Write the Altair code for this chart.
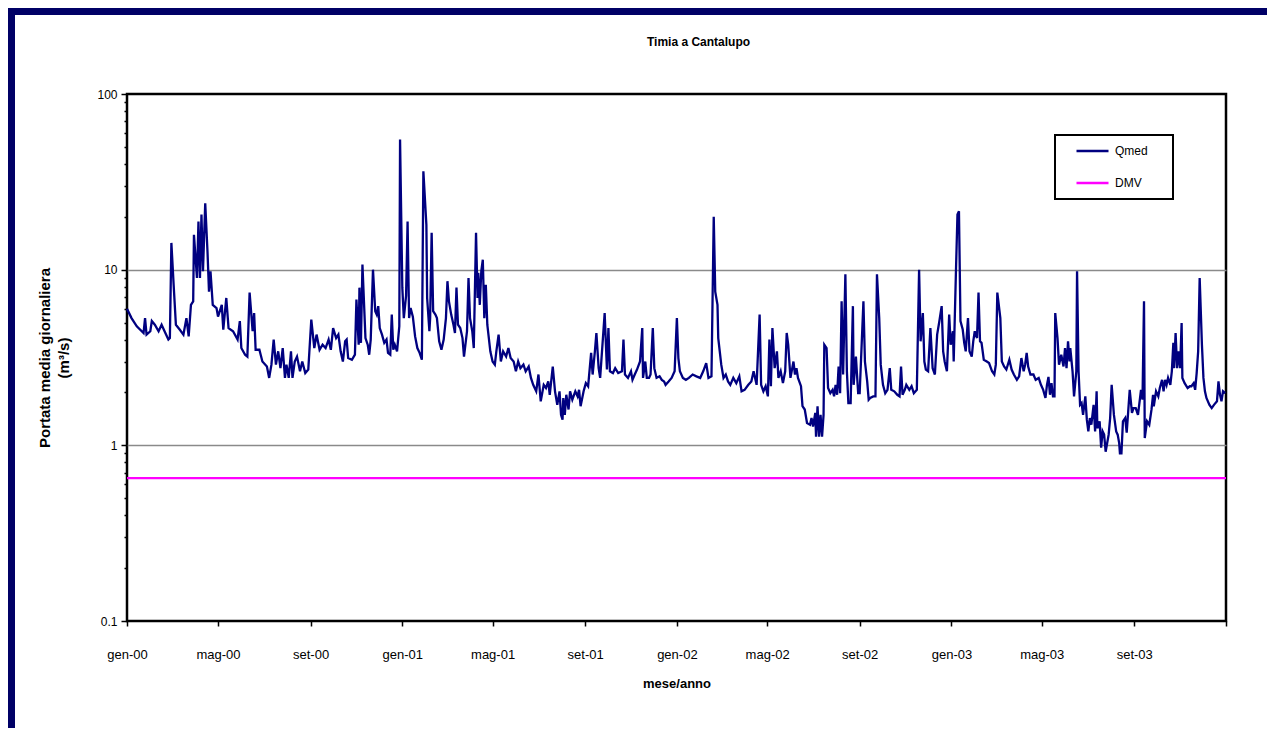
import altair as alt
import pandas as pd

# ---- data ----
# day = days since 2000-01-01, qmed = daily mean discharge (m3/s)
day = [0, 6, 13, 22, 24, 26, 31, 33, 37, 42, 46, 51, 55, 57, 59, 62, 65, 70, 75, 79, 82, 85, 88, 89, 93, 95, 97, 99, 101, 104, 107, 109, 111, 114, 119, 121, 126, 128, 132, 135, 141, 147, 150, 152, 157, 160, 163, 167, 169, 171, 176, 180, 186, 189, 192, 195, 198, 201, 204, 207, 210, 212, 215, 218, 220, 223, 226, 230, 233, 237, 241, 245, 249, 252, 256, 260, 264, 268, 271, 274, 278, 281, 284, 287, 290,
       292, 294, 299, 303, 305, 308, 309, 311, 313, 315, 317, 320, 322, 324, 327, 330, 332, 334, 336, 339, 342, 345, 347, 350, 352, 354, 356, 359, 362, 363, 366, 368, 371, 373, 375, 377, 380, 383, 386, 389, 392, 394, 398, 399, 402, 403, 405, 407, 410, 412, 415, 418, 421, 424, 426, 428, 431, 434, 436, 438, 440, 443, 446, 448, 452, 454, 456, 459, 461, 464, 466, 467, 469, 471, 473, 475, 477, 479, 483, 486, 489, 491, 494, 497, 500, 504, 507, 510, 514, 517, 520, 523, 527, 530, 534, 537, 540, 544, 547, 550, 554, 557, 560, 562, 566, 569, 572, 575, 577, 579,
       580, 582, 584, 587, 589, 592, 596, 599, 601, 603, 607, 610, 613, 617, 619, 622, 624, 627, 629, 635, 638, 640, 642, 646, 649, 653, 658, 660, 662, 666, 670, 672, 675, 678, 682, 685, 686, 689, 691, 694, 696, 699, 701, 704, 708, 711, 714, 716, 720, 724, 728, 731, 733, 735, 739, 743, 747, 752, 757, 762, 766, 770, 773, 777, 780, 782, 785, 786, 788, 790, 793, 796, 799, 802, 806, 810, 814, 817, 821, 826, 830, 833, 837, 841, 843, 846, 849, 852, 854, 856, 858, 861, 864, 866, 869, 872, 875, 877,
       879, 882, 886, 888, 890, 892, 896, 898, 901, 904, 908, 910, 912, 915, 916, 918, 920, 922, 924, 926, 927, 930, 932, 935, 938, 940, 942, 944, 946, 948, 950, 952, 955, 957, 959, 962, 965, 966, 969, 972, 974, 979, 981, 984, 986, 988, 992, 995, 997, 1000, 1002, 1005, 1008, 1011, 1014, 1016, 1020, 1024, 1027, 1029, 1031, 1034, 1036, 1040, 1043, 1046, 1050, 1053, 1055, 1058, 1060, 1062, 1065, 1068, 1071, 1074, 1077, 1080, 1083, 1085, 1087, 1090, 1093, 1095, 1098, 1099, 1102, 1104, 1106, 1108, 1111, 1113, 1115, 1118, 1120, 1123, 1125, 1127, 1130, 1132, 1134, 1136, 1139, 1143, 1146, 1150, 1153, 1155, 1157, 1161, 1163, 1166, 1169, 1173,
       1176, 1179, 1183, 1186, 1189, 1192, 1194, 1196, 1198, 1201, 1205, 1208, 1212, 1215, 1218, 1221, 1223, 1225, 1227, 1229, 1231, 1233, 1234, 1237, 1239, 1242, 1245, 1247, 1249, 1251, 1253, 1254, 1257, 1259, 1262, 1263, 1265, 1267, 1269, 1271, 1274, 1276, 1278, 1280, 1282, 1285, 1287, 1289, 1290, 1293, 1295, 1297, 1299, 1301, 1305, 1307, 1309, 1312, 1315, 1317, 1319, 1320, 1322, 1324, 1327, 1329, 1331, 1333, 1336, 1338, 1341, 1344, 1348, 1350, 1352, 1353, 1356, 1359, 1362, 1364, 1365, 1368, 1371, 1373, 1376, 1378, 1380, 1382, 1384, 1387, 1389, 1391, 1392, 1394, 1396, 1398, 1400, 1402, 1403, 1406, 1410, 1413, 1415, 1418, 1420, 1422, 1424, 1426, 1429, 1431, 1433, 1435, 1439, 1442, 1445, 1449, 1451, 1453, 1455, 1457, 1460]

qmed = [6.0, 5.3, 4.76, 4.36, 5.3, 4.27, 4.46, 5.1, 4.86, 4.46, 4.86, 4.36, 4.0, 4.08, 14.2, 8.2, 4.86, 4.56, 4.27, 5.3, 4.17, 6.3, 6.6, 15.8, 8.97, 18.8, 8.97, 20.6, 9.8, 23.9, 12.7, 7.5, 9.8, 6.3, 6.05, 5.4, 6.3, 4.56, 6.9, 4.65, 4.46, 4.0, 5.1, 3.58, 3.28, 3.2, 7.4, 4.46, 5.66, 3.5, 3.5, 3.0, 2.81, 2.42, 2.88, 4.0, 2.88, 3.43, 2.75, 3.58, 2.42, 2.88, 2.42, 3.43, 2.42, 3.0, 3.2, 2.64, 3.0, 2.58, 2.7, 5.2, 3.58, 4.27, 3.5, 3.74, 3.58, 4.0, 3.5, 4.65, 4.08, 4.27, 3.43, 3.0, 3.91,
        4.0, 3.14, 3.07, 3.28, 6.75, 3.74, 7.9, 3.83, 10.7, 6.6, 4.08, 3.74, 3.28, 4.0, 10.0, 5.8, 5.55, 6.2, 4.65, 4.27, 3.83, 4.0, 3.36, 3.28, 5.55, 3.5, 3.74, 3.43, 4.76, 55.0, 7.9, 5.3, 7.1, 18.8, 5.3, 6.05, 5.4, 4.17, 3.58, 3.36, 3.07, 36.3, 18.0, 6.9, 4.46, 5.3, 16.2, 5.8, 5.55, 5.3, 3.91, 3.5, 4.0, 5.3, 8.6, 6.6, 5.55, 4.86, 4.36, 7.9, 4.86, 4.65, 4.08, 3.2, 4.46, 8.97, 5.3, 4.46, 3.58, 16.2, 6.9, 9.6, 6.3, 9.8, 11.4, 5.3, 8.2, 4.86, 3.43, 3.0, 2.88, 3.43, 4.27, 3.0, 3.43, 3.2, 3.58, 3.14, 3.0, 2.64, 3.0, 2.75, 2.88, 2.64, 2.81, 2.42, 2.21, 2.03, 2.53, 1.78, 2.21, 2.12, 2.31, 1.94, 2.81, 2.03, 1.70, 2.03, 1.49, 1.4,
        1.86, 1.49, 1.94, 1.6, 2.03, 1.82, 2.03, 1.9, 2.07, 1.67, 2.03, 2.26, 2.17, 3.36, 2.53, 3.43, 4.36, 2.75, 2.42, 5.66, 2.7, 4.65, 2.64, 2.58, 2.75, 2.58, 2.64, 4.0, 2.53, 2.42, 2.64, 2.36, 2.53, 2.7, 3.0, 4.65, 2.42, 3.0, 2.42, 2.42, 2.53, 4.65, 2.75, 2.42, 2.47, 2.36, 2.31, 2.21, 2.31, 2.42, 2.64, 5.3, 3.14, 2.64, 2.42, 2.36, 2.42, 2.53, 2.47, 2.42, 2.64, 2.94, 2.42, 2.47, 20.0, 7.5, 6.3, 4.08, 3.43, 2.88, 2.42, 2.53, 2.31, 2.21, 2.42, 2.26, 2.47, 2.03, 2.07, 2.21, 2.31, 2.64, 2.21, 5.55, 2.21, 2.03, 2.17, 1.9, 4.0, 2.17, 4.65, 2.75, 3.43, 2.42, 2.64, 2.26, 2.64, 4.36,
        3.74, 2.42, 3.0, 2.53, 2.75, 2.42, 2.17, 1.67, 1.6, 1.34, 1.31, 1.43, 1.28, 1.53, 1.12, 1.67, 1.12, 1.49, 1.12, 1.49, 3.74, 3.58, 2.12, 1.98, 2.07, 1.9, 2.21, 1.94, 2.81, 1.98, 6.6, 2.53, 9.4, 2.64, 1.74, 1.74, 6.2, 2.21, 3.2, 1.98, 1.98, 6.6, 3.0, 2.31, 1.82, 1.86, 1.9, 1.9, 9.4, 5.3, 2.88, 2.21, 1.98, 2.07, 2.75, 2.07, 2.03, 1.94, 1.9, 2.81, 1.94, 2.07, 2.21, 2.07, 2.17, 1.98, 2.07, 10.0, 3.91, 5.66, 3.0, 2.7, 2.64, 4.65, 2.75, 2.53, 4.27, 5.1, 6.2, 3.43, 3.0, 2.64, 5.55, 3.74, 4.46, 3.0, 9.8, 20.6, 21.5, 5.1, 4.56, 3.83, 3.43, 5.3, 3.43, 3.2, 3.91, 4.46, 4.08, 7.4, 3.91, 3.83, 3.07, 3.0, 2.94, 2.64, 2.53, 2.88, 7.4, 5.3, 3.0, 2.81, 2.7, 3.07,
        2.7, 2.53, 2.36, 2.47, 3.14, 2.64, 2.88, 3.36, 2.81, 2.53, 2.53, 2.36, 2.42, 2.21, 2.07, 1.86, 2.21, 2.45, 1.94, 2.26, 1.9, 1.9, 5.66, 4.08, 2.88, 3.28, 2.81, 3.58, 2.75, 3.91, 3.0, 3.58, 2.64, 1.9, 2.64, 9.8, 2.64, 1.70, 1.74, 1.49, 1.9, 1.4, 1.2, 1.43, 1.31, 1.70, 1.2, 2.03, 1.25, 1.37, 0.97, 1.2, 1.15, 0.92, 1.15, 1.43, 2.21, 1.49, 1.2, 1.15, 1.03, 0.9, 0.9, 1.37, 1.43, 1.18, 1.56, 2.07, 1.53, 1.63, 1.63, 1.49, 2.07, 1.82, 6.6, 1.1, 1.37, 1.31, 1.6, 1.94, 1.67, 2.03, 1.9, 2.12, 2.36, 2.03, 2.36, 2.21, 2.42, 2.21, 2.64, 3.83, 2.75, 4.36, 2.75, 3.43, 2.75, 4.97, 2.42, 2.26, 2.12, 2.17, 2.17, 2.26, 2.07, 2.58, 3.43, 8.97, 3.74, 2.42, 2.03, 1.86, 1.70, 1.63, 1.70, 1.78, 2.31, 1.94, 1.78, 2.03, 1.98]

dmv_day = [0, 1461]
dmv_val = [0.65, 0.65]

series_names = ["Qmed", "DMV"]
series_colors = ["#000080", "#ff00ff"]

month_names = ["gen", "feb", "mar", "apr", "mag", "giu", "lug", "ago", "set", "ott", "nov", "dic"]
y_ticks = [0.1, 0.2, 0.3, 0.4, 0.5, 0.6, 0.7, 0.8, 0.9,
           1, 2, 3, 4, 5, 6, 7, 8, 9,
           10, 20, 30, 40, 50, 60, 70, 80, 90, 100]

# ---- build tables ----
start = pd.Timestamp("2000-01-01")
df_q = pd.DataFrame({"data": start + pd.to_timedelta(day, unit="D"), "q": qmed, "serie": "Qmed"})
df_d = pd.DataFrame({"data": start + pd.to_timedelta(dmv_day, unit="D"), "q": dmv_val, "serie": "DMV"})
df = pd.concat([df_q, df_d], ignore_index=True)

x_ticks = [alt.DateTime(year=2000 + i // 3, month=1 + 4 * (i % 3), date=1) for i in range(13)]

FONT = "Liberation Sans"
NAVY = "#000066"

major_test = "indexof([0.1, 1, 10, 100], datum.value) >= 0"
grid_test = "indexof([1, 10], datum.value) >= 0"

month_js = "[" + ",".join("'%s'" % m for m in month_names) + "]"
x_label_expr = ("year(datum.value) >= 2004 ? '' : " + month_js +
                "[month(datum.value)] + '-' + timeFormat(datum.value, '%y')")

lines = alt.Chart(df).mark_line(strokeWidth=2.3, interpolate="linear").encode(
    x=alt.X(
        "data:T",
        scale=alt.Scale(domain=[alt.DateTime(year=2000, month=1, date=1),
                                alt.DateTime(year=2004, month=1, date=1)]),
        axis=alt.Axis(
            title="mese/anno",
            values=x_ticks,
            labelExpr=x_label_expr,
            labelFlush=False,
            labelOverlap=False,
            grid=False,
            domain=False,
            tickSize=5,
            tickWidth=1.5,
            tickColor="black",
            labelPadding=22,
            labelFontSize=13,
            titleFontSize=13,
            titlePadding=16,
        ),
    ),
    y=alt.Y(
        "q:Q",
        scale=alt.Scale(type="log", domain=[0.1, 100], nice=False),
        axis=alt.Axis(
            title=["Portata media giornaliera", "(m³/s)"],
            values=y_ticks,
            format="~g",
            labelExpr=major_test + " ? datum.label : ''",
            labelOverlap=False,
            domain=False,
            tickColor="black",
            tickWidth=1.5,
            tickSize={"condition": {"test": major_test, "value": 6}, "value": 3},
            grid=True,
            gridColor="#8a8a8a",
            gridWidth=1.6,
            gridOpacity={"condition": {"test": grid_test, "value": 1}, "value": 0},
            labelPadding=4,
            labelFontSize=12,
            titleFontSize=15,
            titlePadding=25,
            titleLineHeight=19,
        ),
    ),
    color=alt.Color(
        "serie:N",
        sort=series_names,
        scale=alt.Scale(domain=series_names, range=series_colors),
        legend=alt.Legend(
            title="ii",
            titleOrient="right",
            titleOpacity=0,
            titleFontSize=12,
            titlePadding=10,
            orient="none",
            legendX=928,
            legendY=41,
            symbolType="stroke",
            symbolSize=1024,
            symbolStrokeWidth=2.5,
            symbolOffset=12,
            labelOffset=5,
            clipHeight=16,
            rowPadding=16,
            padding=8,
            strokeColor="black",
            fillColor="white",
            labelFont=FONT,
            labelFontSize=12,
            labelColor="black",
        ),
    ),
)

one = pd.DataFrame({"k": [0]})
strip_left = alt.Chart(one).mark_rect(color=NAVY).encode(
    x=alt.value(-119), x2=alt.value(-112), y=alt.value(-86), y2=alt.value(634)
)
strip_top = alt.Chart(one).mark_rect(color=NAVY).encode(
    x=alt.value(-119), x2=alt.value(1140), y=alt.value(-86), y2=alt.value(-79)
)

chart = (
    alt.layer(strip_left, strip_top, lines)
    .properties(
        width=1099,
        height=527,
        padding={"left": 119, "top": 86, "right": 41, "bottom": 107},
        autosize=alt.AutoSizeParams(type="none"),
        background="white",
        title=alt.TitleParams(
            "Timia a Cantalupo",
            font=FONT,
            fontSize=12,
            fontWeight="bold",
            color="black",
            anchor="middle",
            frame="group",
            baseline="bottom",
            offset=-53,
            dx=22,
        ),
    )
    .configure_view(stroke="black", strokeWidth=2.5)
    .configure_axis(
        labelFont=FONT,
        titleFont=FONT,
        labelColor="black",
        titleColor="black",
        titleFontWeight="bold",
    )
    .configure_legend(strokeWidth=2)
)

chart.save("out.html", embed_options={"renderer": "svg", "actions": False})
